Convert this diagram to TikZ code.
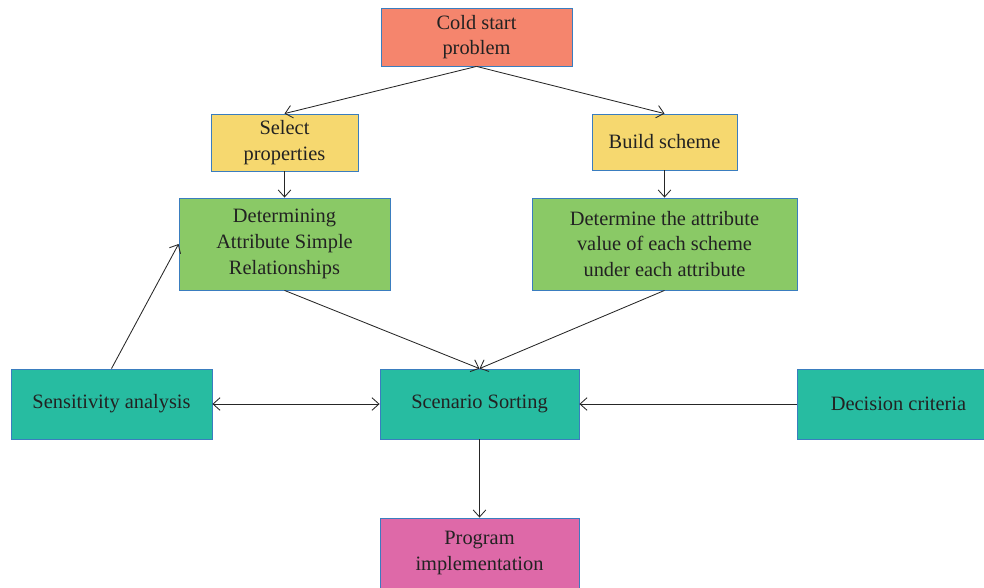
\documentclass[tikz,border=0pt]{standalone}
\usepackage{fontspec}
\setmainfont{Liberation Serif}
\usepackage{tikz}
\usetikzlibrary{arrows.meta,calc}
\definecolor{coldred}{HTML}{F5856D}
\definecolor{selyellow}{HTML}{F6D86F}
\definecolor{detgreen}{HTML}{8AC966}
\definecolor{sortteal}{HTML}{27BCA1}
\definecolor{progpink}{HTML}{DE69A8}
\definecolor{edgeblue}{HTML}{3A7DBF}
\definecolor{txtgray}{HTML}{222222}
\tikzset{
  box/.style={draw=edgeblue, line width=0.6pt, inner sep=0pt, align=center,
    text=txtgray, font=\fontsize{14.5}{18.2}\selectfont},
  arr/.style={-{Straight Barb[length=5pt,width=9pt]}, line width=0.6pt, draw=black!85},
  twoarr/.style={{Straight Barb[length=5pt,width=9pt]}-{Straight Barb[length=5pt,width=9pt]}, line width=0.6pt, draw=black!85}
}

\begin{document}
\begin{tikzpicture}[x=0.025cm, y=-0.025cm]
\useasboundingbox (0,0) rectangle (984,587);
\node[box, fill=coldred, minimum width=191*0.025cm, minimum height=58*0.025cm] (cold) at (476.5,37) {Cold start\\problem};
\node[box, fill=selyellow, minimum width=147*0.025cm, minimum height=57*0.025cm] (select) at (284.5,142.5) {Select\\properties};
\node[box, fill=selyellow, minimum width=145*0.025cm, minimum height=56*0.025cm] (build) at (664.5,142) {Build scheme};
\node[box, fill=detgreen, minimum width=211*0.025cm, minimum height=92*0.025cm] (simple) at (284.5,244) {Determining\\Attribute Simple\\Relationships};
\node[box, fill=detgreen, minimum width=265*0.025cm, minimum height=92*0.025cm] (value) at (664.5,244) {Determine the attribute\\value of each scheme\\under each attribute};
\node[box, fill=sortteal, minimum width=201*0.025cm, minimum height=70*0.025cm] (sens) at (111.5,404) {Sensitivity analysis};
\node[box, fill=sortteal, minimum width=199*0.025cm, minimum height=70*0.025cm] (sort) at (479.5,404) {Scenario Sorting};
\node[box, fill=sortteal, minimum width=203*0.025cm, minimum height=70*0.025cm] (crit) at (898.5,404) {Decision criteria};
\node[box, fill=progpink, minimum width=199*0.025cm, minimum height=84*0.025cm] (prog) at (479.5,560) {};
\node[box, draw=none] (progtext) at ($(prog.center)+(0,-7)$) {Program\\implementation};
% connectors
\draw[arr] (cold.south) -- (select.north);
\draw[arr] (cold.south) -- (build.north);
\draw[arr] (select) -- (simple);
\draw[arr] (build) -- (value);
\draw[arr] (simple.south) -- (sort.north);
\draw[arr] (value.south) -- (sort.north);
\draw[arr] (sens.north) -- (simple.west);
\draw[twoarr] (sens) -- (sort);
\draw[arr] (crit) -- (sort);
\draw[arr] (sort) -- (prog);
\end{tikzpicture}
\end{document}
